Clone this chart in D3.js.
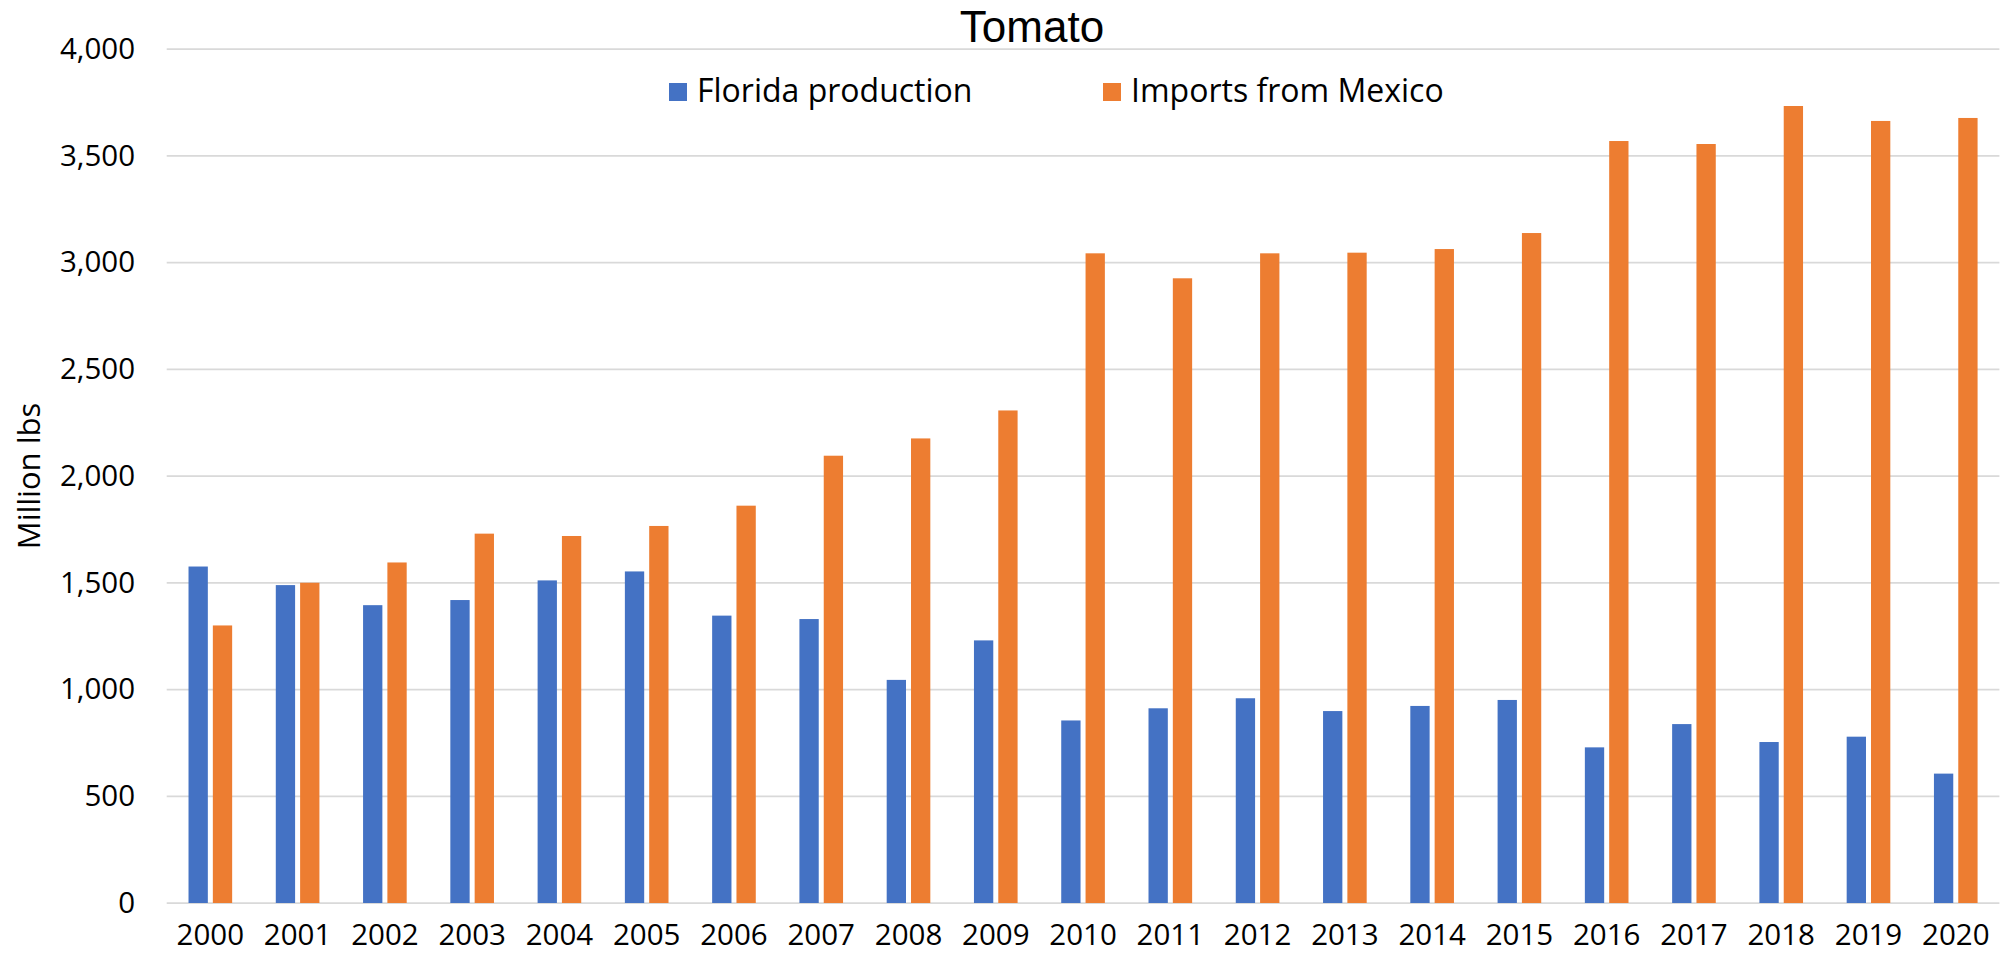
<!DOCTYPE html>
<html>
<head>
<meta charset="utf-8">
<script src="https://cdn.jsdelivr.net/npm/d3@7"></script>
<style>
  html, body { margin: 0; padding: 0; background: #fff; }
  svg { display: block; }
  text { font-family: "Open Sans", "Liberation Sans", Arial, sans-serif; fill: #000; }
</style>
</head>
<body>
<svg id="chart" width="2002" height="961"></svg>
<script>
const years = ["2000","2001","2002","2003","2004","2005","2006","2007","2008","2009","2010",
               "2011","2012","2013","2014","2015","2016","2017","2018","2019","2020"];
const floridaProduction = [1576,1489,1395,1419,1511,1553,1346,1330,1045,1230,855,
                           912,959,899,923,951,729,838,754,779,606];
const importsFromMexico = [1300,1500,1595,1730,1719,1766,1861,2095,2176,2307,3043,
                           2926,3043,3046,3063,3138,3569,3555,3733,3663,3677];
const seriesNames = ["Florida production", "Imports from Mexico"];
const seriesColors = ["#4472C4", "#ED7D31"];
const yTicks = [0,500,1000,1500,2000,2500,3000,3500,4000];
const chartTitle = "Tomato";
const yAxisTitle = "Million lbs";

const svg = d3.select("#chart");
const plot = { left: 166.7, right: 1999.4, top: 49, bottom: 903 };

const y = d3.scaleLinear().domain([0, 4000]).range([plot.bottom, plot.top]);
const x0 = d3.scaleBand().domain(years).range([plot.left, plot.right])
  .paddingInner(0.5).paddingOuter(0.25);
const x1 = d3.scaleBand().domain(seriesNames).range([0, x0.bandwidth()]).paddingInner(0.206);
const color = d3.scaleOrdinal().domain(seriesNames).range(seriesColors);

// gridlines
svg.append("g").selectAll("line").data(yTicks).join("line")
  .attr("x1", plot.left).attr("x2", plot.right)
  .attr("y1", d => y(d)).attr("y2", d => y(d))
  .attr("stroke", "#D9D9D9").attr("stroke-width", 1.75);

// y axis labels
const fmt = d3.format(",");
const yAxis = d3.axisLeft(y).tickValues(yTicks).tickFormat(fmt).tickSize(0).tickPadding(0);
const gy = svg.append("g").attr("transform", `translate(135,0)`).call(yAxis);
gy.select(".domain").remove();
gy.selectAll("text").attr("font-size", 29.5).attr("font-family", null).attr("fill", "#000");

// x axis labels
const xAxis = d3.axisBottom(x0).tickSize(0).tickPadding(0);
const gx = svg.append("g").attr("transform", `translate(0,924)`).call(xAxis);
gx.select(".domain").remove();
gx.selectAll("text").attr("font-size", 29.5).attr("font-family", null).attr("fill", "#000");

// bars
const rows = years.map((yr, i) => ({ year: yr, values: [
  { key: seriesNames[0], value: floridaProduction[i] },
  { key: seriesNames[1], value: importsFromMexico[i] }
]}));
svg.append("g").selectAll("g").data(rows).join("g")
  .attr("transform", d => `translate(${x0(d.year)},0)`)
  .selectAll("rect").data(d => d.values).join("rect")
  .attr("x", d => x1(d.key))
  .attr("width", x1.bandwidth())
  .attr("y", d => y(d.value))
  .attr("height", d => y(0) - y(d.value))
  .attr("fill", d => color(d.key));

// title
svg.append("text").attr("x", 1032).attr("y", 42)
  .attr("text-anchor", "middle").attr("font-size", 44)
  .style("font-family", "'Liberation Sans', Arial, sans-serif").text(chartTitle);

// y axis title
svg.append("text")
  .attr("transform", `translate(40,${(plot.top + plot.bottom) / 2}) rotate(-90)`)
  .attr("text-anchor", "middle").attr("font-size", 31).text(yAxisTitle);

// legend
const legendX = [669, 1103];
const lg = svg.append("g").selectAll("g").data(seriesNames).join("g")
  .attr("transform", (d, i) => `translate(${legendX[i]},0)`);
lg.append("rect").attr("x", 0).attr("y", 83).attr("width", 18).attr("height", 18)
  .attr("fill", d => color(d));
lg.append("text").attr("x", 28).attr("y", 101.5).attr("font-size", 32).text(d => d);
</script>
</body>
</html>
